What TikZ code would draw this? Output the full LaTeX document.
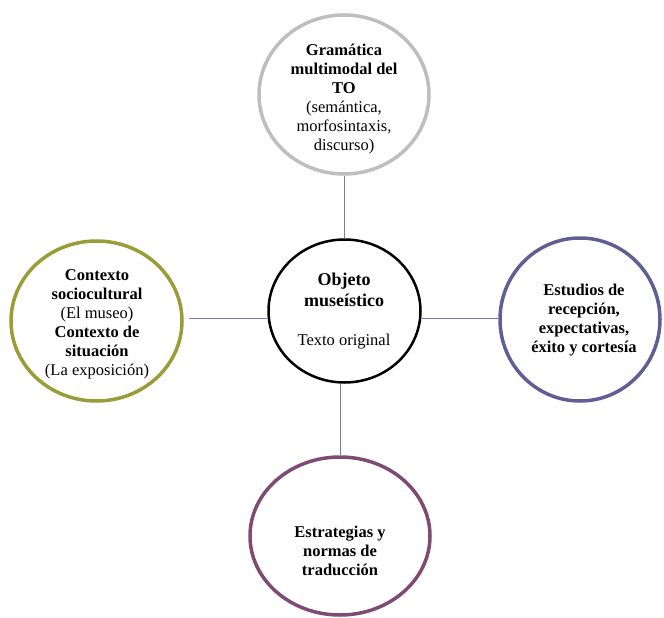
\documentclass[tikz,border=0pt]{standalone}
\usepackage{fontspec}
\setmainfont{Liberation Serif}
\usetikzlibrary{shapes.geometric,calc}
\definecolor{cgray}{RGB}{190,190,190}
\definecolor{colive}{RGB}{155,155,55}
\definecolor{cslate}{RGB}{95,95,150}
\definecolor{cplum}{RGB}{125,75,115}
\definecolor{cline}{RGB}{120,120,170}
\newcommand{\bigb}[1]{\textbf{\fontsize{18}{21}\selectfont #1}}
\tikzset{
  ring/.style={ellipse, draw, line width=3.5pt, inner sep=0pt},
  lbl/.style={align=center, inner sep=0pt, font=\fontsize{16.5}{19}\selectfont},
  conn/.style={draw=cline, line width=1pt}
}
\begin{document}
\begin{tikzpicture}[x=1pt,y=-1pt]
\useasboundingbox (0,0) rectangle (664,618);
% circles
\node[ring, draw=cgray, minimum width=170pt, minimum height=159pt] (top) at (344,94.5) {};
\node[ring, draw=colive, minimum width=171pt, minimum height=160pt] (left) at (96.5,321) {};
\node[ring, draw=cslate, minimum width=160pt, minimum height=163pt] (right) at (580,319.5) {};
\node[ring, draw=cplum, minimum width=180pt, minimum height=158pt] (bot) at (340,536) {};
\node[ring, draw=black, line width=2.5pt, minimum width=152pt, minimum height=143pt] (c) at (344.5,311) {};
% texts
\node[lbl] (toptext) at (344,99) {\textbf{Gramática}\\\textbf{multimodal del}\\\textbf{TO}\\(semántica,\\morfosintaxis,\\discurso)};
\node[lbl] (lefttext) at (97,324.5) {\textbf{Contexto}\\\textbf{sociocultural}\\(El museo)\\\textbf{Contexto de}\\\textbf{situación}\\(La exposición)};
\node[lbl] (righttext) at (584,320.5) {\textbf{Estudios de}\\\textbf{recepción,}\\\textbf{expectativas,}\\\textbf{éxito y cortesía}};
\node[lbl] (bottext) at (340,550.5) {\textbf{Estrategias y}\\\textbf{normas de}\\\textbf{traducción}};
\node[lbl] (ctext) at (344,311) {\bigb{Objeto}\\[2pt]\bigb{museístico}\\[20pt]Texto original};
% connectors
\path (c.west) ++(0,7) coordinate (cw);
\path (c.east) ++(0,7) coordinate (ce);
\draw[conn, shorten <=5pt] (left.east |- cw) -- (cw);
\draw[conn] (ce) -- (right.west |- ce);
\draw[conn] (top.south) -- (top.south |- c.north);
\draw[conn] (bot.north) -- (bot.north |- c.south);
\end{tikzpicture}
\end{document}
